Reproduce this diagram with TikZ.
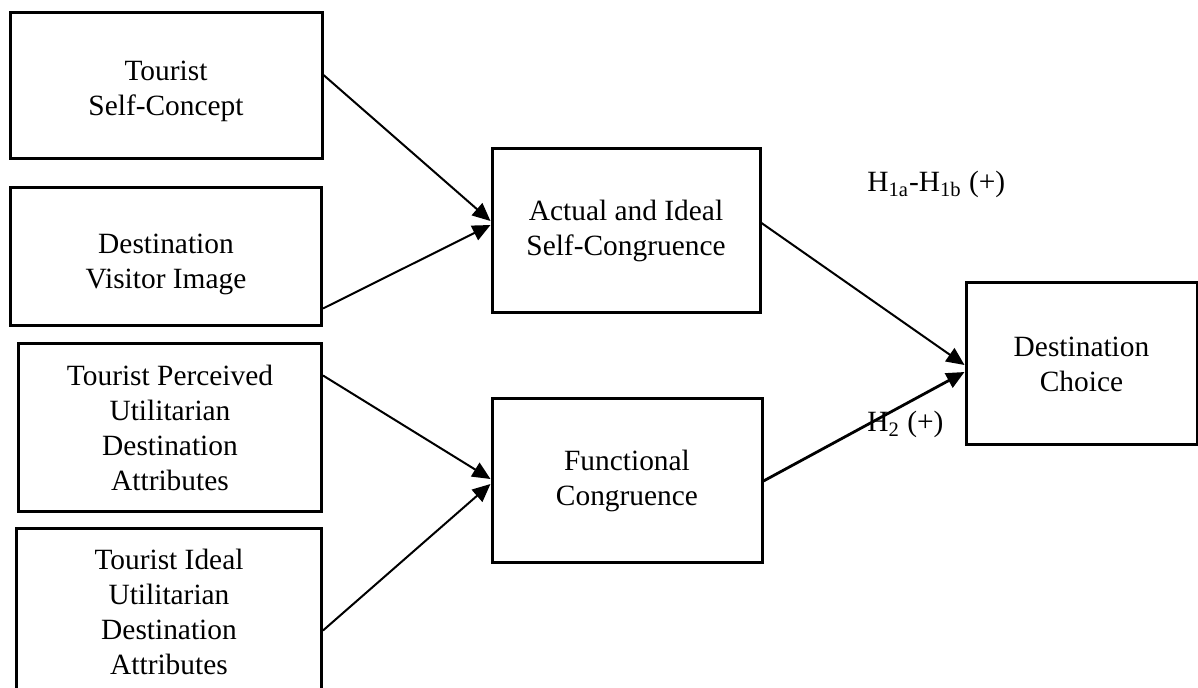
\documentclass[tikz,border=0pt]{standalone}
\usepackage{fontspec}
\setmainfont{Liberation Serif}
\usepackage{tikz}
\usetikzlibrary{arrows.meta, positioning}
\tikzstyle{block}=[rectangle, draw=black, line width=1.5pt, fill=white,
                   inner sep=2pt, align=center,
                   font=\fontsize{14.7pt}{17.5pt}\selectfont]
\tikzstyle{arrow}=[-{Triangle[length=9pt,width=8pt]}, line width=1pt, color=black]
\tikzstyle{hlabel}=[inner sep=0pt, anchor=base west,
                    font=\fontsize{14.7pt}{17.5pt}\selectfont]

\begin{document}
\begin{tikzpicture}
  \useasboundingbox (0pt,0pt) rectangle (599pt,-344pt);

  % Antecedents
  \node[block, minimum width=156pt, minimum height=73pt] (tsc) at (83pt,-43pt)
        {\rule{0pt}{15pt}Tourist\\Self-Concept};
  \node[block, below=13pt of tsc, minimum width=155.5pt, minimum height=69pt]
        (dvi) {\rule{0pt}{17pt}Destination\\Visitor Image};
  \node[block, below=7.5pt of dvi, xshift=2pt,
        minimum width=151.5pt, minimum height=84pt]
        (tpu) {Tourist Perceived\\Utilitarian\\Destination\\Attributes};
  \node[block, below=7pt of tpu, xshift=-0.5pt,
        minimum width=152.5pt, minimum height=100pt]
        (tiu) {Tourist Ideal\\Utilitarian\\Destination\\Attributes\\~};

  % Congruence
  \node[block, right=83.5pt of tsc, yshift=-72.5pt,
        minimum width=134pt, minimum height=82pt]
        (act) {Actual and Ideal\\Self-Congruence};
  \node[block, below=41.5pt of act, xshift=0.5pt,
        minimum width=135pt, minimum height=82pt]
        (fun) {Functional\\Congruence};

  % Outcome
  \node[block, right=101.5pt of act, yshift=-66.5pt,
        minimum width=115.5pt, minimum height=81pt]
        (dc) {Destination\\Choice};

  % Hypotheses
  \node[hlabel] (h1) at (433.5pt,-96pt) {H\textsubscript{1a}-H\textsubscript{1b} (+)};
  \node[hlabel] (h2) at (433.5pt,-216pt) {H\textsubscript{2} (+)};

  % Arrows
  \draw[arrow] ([yshift=5.5pt]tsc.east) -- ([yshift=5pt]act.west);
  \draw[arrow] ([yshift=9.5pt]dvi.south east) -- ([yshift=3pt]act.west);
  \draw[arrow] ([yshift=-16.5pt]tpu.north east) -- ([yshift=1pt]fun.west);
  \draw[arrow] ([yshift=-51.5pt]tiu.north east) -- ([yshift=-1.5pt]fun.west);
  \draw[arrow] ([yshift=4pt]act.east) -- ([yshift=-0.5pt]dc.west);
  \draw[arrow, line width=1.4pt] (fun.east) -- ([yshift=-4pt]dc.west);
\end{tikzpicture}
\end{document}
